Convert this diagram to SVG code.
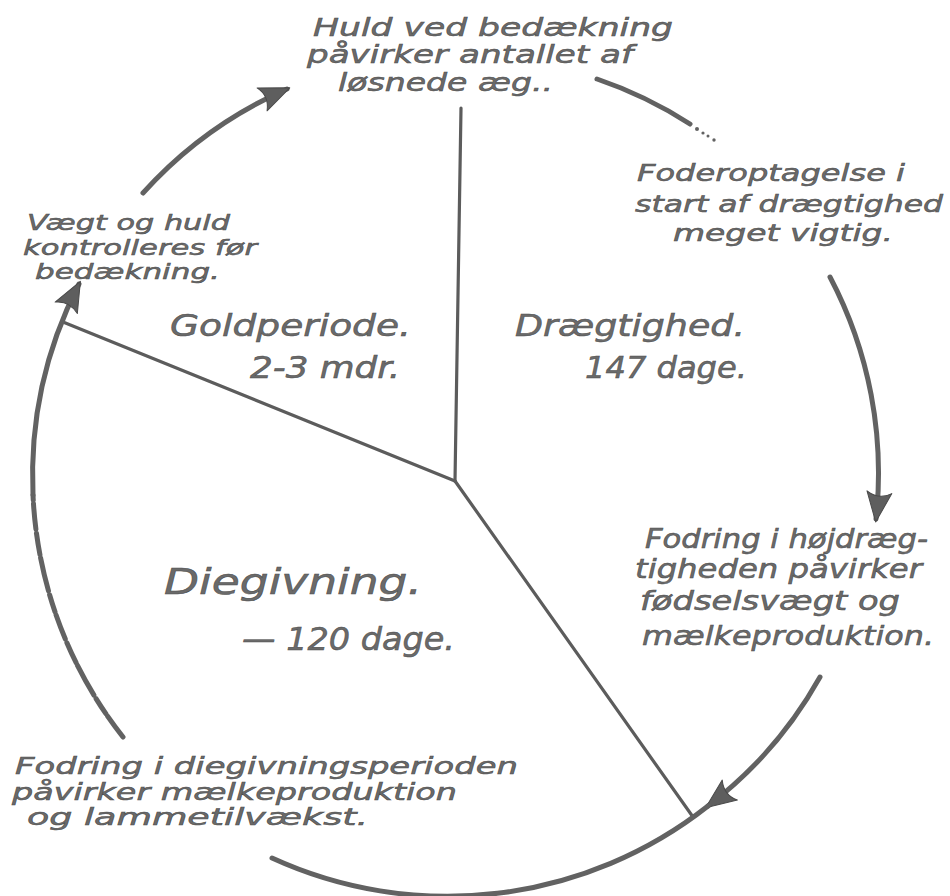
<svg xmlns="http://www.w3.org/2000/svg" width="950" height="896" viewBox="0 0 950 896">
<style>
  .t { font-family: "DejaVu Sans", "Liberation Sans", sans-serif; font-style: italic; fill: #6a6a6a; stroke: #4c4c4c; stroke-width: 0.5; }
  .arc { fill: none; stroke: #626262; stroke-width: 5; stroke-linecap: round; }
  .spoke { fill: none; stroke: #5c5c5c; stroke-width: 3.2; stroke-linecap: round; }
</style>
<defs>
  <marker id="head" markerUnits="userSpaceOnUse" viewBox="-30 -16 34 32" refX="0" refY="0" markerWidth="34" markerHeight="32" orient="auto">
    <path d="M3,0 L-27,-13 Q-19,-1 -27,12 Z" fill="#5e5e5e" stroke="#4a4a4a" stroke-width="1" stroke-linejoin="round"/>
  </marker>
</defs>
<rect width="950" height="896" fill="#ffffff"/>

<g id="connectors">
  <path class="spoke" d="M461,108 L455,481"/>
  <path class="spoke" d="M63,322 L455,481"/>
  <path class="spoke" d="M455,481 L693,817"/>
  <path class="arc" d="M143,193 A421,421 0 0 1 287,89" marker-end="url(#head)"/>
  <path class="arc" d="M597,79 A421,421 0 0 1 690,124"/>
  <g fill="#626262">
    <circle cx="697" cy="129" r="2"/>
    <circle cx="703" cy="133" r="1.6"/>
    <circle cx="708" cy="136" r="1.5"/>
    <circle cx="714" cy="140" r="1.7"/>
  </g>
  <path class="arc" d="M830,277 A421,421 0 0 1 876,519" marker-end="url(#head)"/>
  <path class="arc" d="M820,677 A418,418 0 0 1 708,806" marker-end="url(#head)"/>
  <path class="arc" d="M708,806 A421,421 0 0 1 272,858"/>
  <path class="arc" style="stroke-dasharray:26 3 18 4 34 3 22 4" d="M123,737 A421,421 0 0 1 33,495"/>
  <path class="arc" d="M33,495 A421,421 0 0 1 79,284" marker-end="url(#head)"/>
</g>

<g id="note-top">
  <text class="t" font-size="25" x="313" y="36" textLength="360" lengthAdjust="spacingAndGlyphs">Huld ved bedækning</text>
  <text class="t" font-size="25" x="307" y="63" textLength="326" lengthAdjust="spacingAndGlyphs">påvirker antallet af</text>
  <text class="t" font-size="25" x="338" y="91" textLength="215" lengthAdjust="spacingAndGlyphs">løsnede æg..</text>
</g>

<g id="note-right-top">
  <text class="t" font-size="23" x="637" y="181" textLength="268" lengthAdjust="spacingAndGlyphs">Foderoptagelse i</text>
  <text class="t" font-size="23" x="635" y="212" textLength="308" lengthAdjust="spacingAndGlyphs">start af drægtighed</text>
  <text class="t" font-size="23" x="673" y="241" textLength="220" lengthAdjust="spacingAndGlyphs">meget vigtig.</text>
</g>

<g id="note-left-top">
  <text class="t" font-size="22" x="27" y="230" textLength="203" lengthAdjust="spacingAndGlyphs">Vægt og huld</text>
  <text class="t" font-size="22" x="23" y="255" textLength="234" lengthAdjust="spacingAndGlyphs">kontrolleres før</text>
  <text class="t" font-size="22" x="35" y="279" textLength="185" lengthAdjust="spacingAndGlyphs">bedækning.</text>
</g>

<g id="sector-goldperiode">
  <text class="t" font-size="31" x="170" y="336" textLength="241" lengthAdjust="spacingAndGlyphs">Goldperiode.</text>
  <text class="t" font-size="30" x="250" y="378" textLength="150" lengthAdjust="spacingAndGlyphs">2-3 mdr.</text>
</g>

<g id="sector-draegtighed">
  <text class="t" font-size="31" x="515" y="336" textLength="230" lengthAdjust="spacingAndGlyphs">Drægtighed.</text>
  <text class="t" font-size="30" x="585" y="378" textLength="162" lengthAdjust="spacingAndGlyphs">147 dage.</text>
</g>

<g id="sector-diegivning">
  <text class="t" font-size="35" x="164" y="594" textLength="258" lengthAdjust="spacingAndGlyphs">Diegivning.</text>
  <text class="t" font-size="32" x="242" y="650" textLength="213" lengthAdjust="spacingAndGlyphs">— 120 dage.</text>
</g>

<g id="note-right-bottom">
  <text class="t" font-size="26" x="645" y="548" textLength="283" lengthAdjust="spacingAndGlyphs">Fodring i højdræg-</text>
  <text class="t" font-size="26" x="635" y="578" textLength="287" lengthAdjust="spacingAndGlyphs">tigheden påvirker</text>
  <text class="t" font-size="26" x="640" y="610" textLength="260" lengthAdjust="spacingAndGlyphs">fødselsvægt og</text>
  <text class="t" font-size="26" x="642" y="645" textLength="292" lengthAdjust="spacingAndGlyphs">mælkeproduktion.</text>
</g>

<g id="note-left-bottom">
  <text class="t" font-size="23" x="15" y="774" textLength="503" lengthAdjust="spacingAndGlyphs">Fodring i diegivningsperioden</text>
  <text class="t" font-size="23" x="12" y="800" textLength="445" lengthAdjust="spacingAndGlyphs">påvirker mælkeproduktion</text>
  <text class="t" font-size="23" x="27" y="825" textLength="341" lengthAdjust="spacingAndGlyphs">og lammetilvækst.</text>
</g>
</svg>
